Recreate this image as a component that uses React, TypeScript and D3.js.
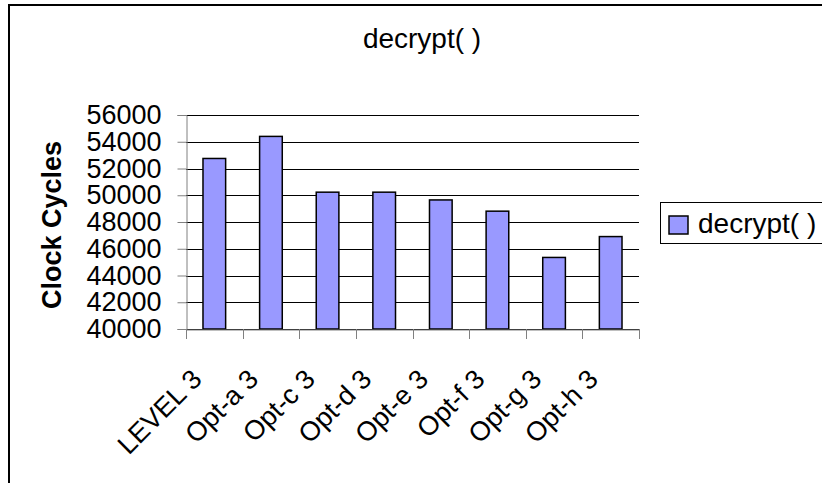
import React, { useEffect, useRef } from 'react';
import * as d3 from 'd3';

const categories = ['LEVEL 3', 'Opt-a 3', 'Opt-c 3', 'Opt-d 3', 'Opt-e 3', 'Opt-f 3', 'Opt-g 3', 'Opt-h 3'];
const cycles = [52750, 54400, 50230, 50230, 49650, 48810, 45350, 46910];
const yTicks = [40000, 42000, 44000, 46000, 48000, 50000, 52000, 54000, 56000];
const seriesName = 'decrypt( )';

const W = 822;
const H = 483;
const FONT = '"Liberation Sans", Arial, sans-serif';

export default function App() {
	const ref = useRef<SVGSVGElement>(null);

	useEffect(() => {
		const svg = d3.select(ref.current);
		svg.selectAll('*').remove();

		const plot = { left: 186, right: 639, top: 115, bottom: 329 };

		const x = d3.scaleBand<string>().domain(categories).range([plot.left, plot.right]);
		const y = d3.scaleLinear().domain([40000, 56000]).range([plot.bottom, plot.top]);
		const barW = x.bandwidth() / 2.5; // gap width 150%

		// outer chart border (runs off the right and bottom)
		svg.append('rect')
			.attr('x', 9).attr('y', 5)
			.attr('width', W + 20).attr('height', H + 20)
			.attr('fill', '#fff').attr('stroke', '#000').attr('stroke-width', 2);

		// title
		svg.append('text')
			.attr('x', 422).attr('y', 48)
			.attr('text-anchor', 'middle')
			.style('font', `28px ${FONT}`)
			.text(seriesName);

		// gridlines
		svg.append('g')
			.selectAll('line')
			.data(yTicks)
			.enter()
			.append('line')
			.attr('x1', plot.left).attr('x2', plot.right)
			.attr('y1', d => Math.round(y(d)) + 0.5).attr('y2', d => Math.round(y(d)) + 0.5)
			.attr('stroke', '#000');

		// bars
		svg.append('g')
			.selectAll('rect')
			.data(cycles)
			.enter()
			.append('rect')
			.attr('x', (d, i) => x(categories[i])! + x.bandwidth() / 2 - barW / 2)
			.attr('y', d => y(d))
			.attr('width', barW)
			.attr('height', d => y(40000) - y(d))
			.attr('fill', '#9999ff')
			.attr('stroke', '#000')
			.attr('stroke-width', 1.5);

		// y axis
		const yAxis = svg.append('g').attr('transform', `translate(${plot.left + 0.5},0)`)
			.call(d3.axisLeft(y).tickValues(yTicks).tickSize(9).tickPadding(16).tickFormat(d3.format('d')));
		yAxis.select('.domain').attr('stroke', '#808080');
		yAxis.selectAll('.tick line').attr('stroke', '#808080');
		yAxis.selectAll('text').style('font', `27px ${FONT}`).attr('fill', '#000');

		// x axis
		const xAxis = svg.append('g').attr('transform', `translate(0,${plot.bottom + 0.5})`)
			.call(d3.axisBottom(x).tickSize(0).tickFormat(() => ''));
		xAxis.select('.domain').attr('stroke', '#808080');
		svg.append('g')
			.selectAll('line')
			.data(d3.range(categories.length + 1))
			.enter()
			.append('line')
			.attr('x1', i => Math.round(plot.left + i * x.step()) + 0.5)
			.attr('x2', i => Math.round(plot.left + i * x.step()) + 0.5)
			.attr('y1', plot.bottom).attr('y2', plot.bottom + 10)
			.attr('stroke', '#808080');

		// rotated category labels
		svg.append('g')
			.selectAll('text')
			.data(categories)
			.enter()
			.append('text')
			.attr('transform', d => `translate(${x(d)! + x.bandwidth() / 2 - 11},${plot.bottom + 52}) rotate(-45)`)
			.attr('text-anchor', 'end')
			.style('font', `27px ${FONT}`)
			.text(d => d);

		// y axis title
		svg.append('text')
			.attr('transform', `translate(61,225) rotate(-90)`)
			.attr('text-anchor', 'middle')
			.style('font', `bold 27px ${FONT}`)
			.text('Clock Cycles');

		// legend
		const legend = svg.append('g');
		legend.append('rect')
			.attr('x', 660.5).attr('y', 202.5)
			.attr('width', 200).attr('height', 41)
			.attr('fill', '#fff').attr('stroke', '#000');
		legend.append('rect')
			.attr('x', 669).attr('y', 216)
			.attr('width', 19).attr('height', 18)
			.attr('fill', '#9999ff').attr('stroke', '#000').attr('stroke-width', 1.5);
		legend.append('text')
			.attr('x', 698).attr('y', 233)
			.style('font', `28px ${FONT}`)
			.text(seriesName);
	}, []);

	return (
		<svg
			ref={ref}
			width={W}
			height={H}
			style={{ position: 'absolute', left: 0, top: 0, background: '#fff' }}
		/>
	);
}
